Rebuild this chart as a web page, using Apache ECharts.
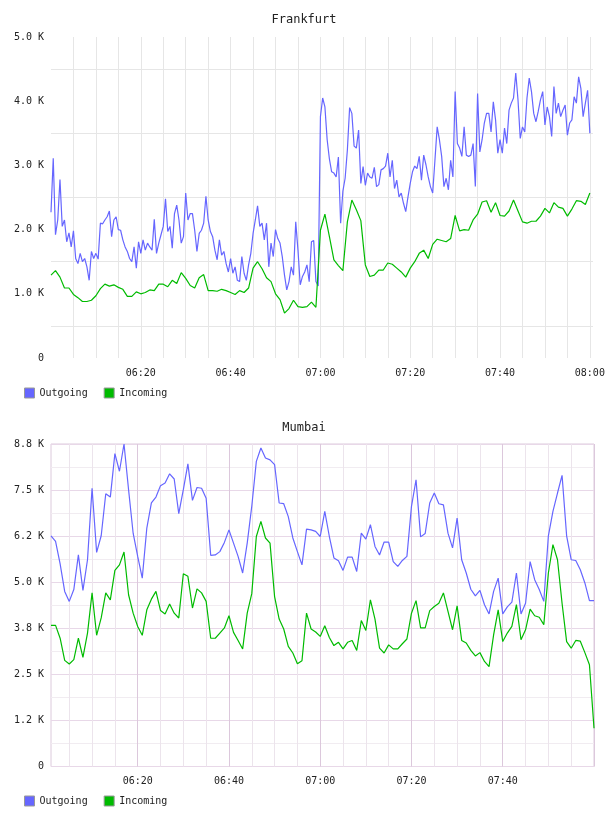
<!DOCTYPE html>
<html><head><meta charset="utf-8">
<script src="https://cdn.jsdelivr.net/npm/echarts@6/dist/echarts.min.js"></script>
<style>html,body{margin:0;padding:0;background:#fff}#c{width:608px;height:816px}</style>
</head><body><div id="c"></div>
<script>
// ---------- data (values in thousands) ----------
// Frankfurt outgoing: one sample every 30 s from 06:00
const frankfurtOutgoing = [
2.27,3.11,1.92,2.15,2.78,2.05,2.15,1.81,1.95,1.73,
1.98,1.55,1.47,1.63,1.50,1.55,1.42,1.21,1.66,1.55,
1.63,1.54,2.10,2.09,2.15,2.20,2.29,1.89,2.15,2.20,
2.00,1.99,1.84,1.73,1.66,1.55,1.50,1.73,1.40,1.81,
1.63,1.84,1.68,1.79,1.73,1.68,2.16,1.63,1.79,1.92,
2.05,2.48,1.97,2.05,1.71,2.25,2.38,2.15,1.79,1.89,
2.57,2.15,2.25,2.25,1.99,1.66,1.94,1.99,2.10,2.52,
2.15,1.97,1.89,1.68,1.53,1.84,1.60,1.66,1.47,1.34,
1.55,1.32,1.42,1.21,1.19,1.58,1.32,1.21,1.45,1.63,
1.94,2.15,2.37,2.05,2.10,1.84,2.10,1.42,1.79,1.58,
2.00,1.86,1.79,1.58,1.29,1.06,1.19,1.42,1.29,2.12,
1.68,1.14,1.27,1.34,1.45,1.19,1.81,1.83,1.19,1.12,
3.76,4.05,3.91,3.40,3.10,2.90,2.88,2.82,3.13,2.10,
2.60,2.80,3.24,3.90,3.81,3.30,3.27,3.55,2.72,2.98,
2.69,2.88,2.82,2.80,2.97,2.67,2.70,2.93,2.95,2.99,
3.19,2.82,3.08,2.64,2.77,2.51,2.57,2.41,2.28,2.51,
2.72,2.90,2.99,2.95,3.14,2.77,3.16,3.01,2.82,2.67,
2.57,3.08,3.60,3.40,3.14,2.67,2.80,2.62,3.08,2.82,
4.15,3.34,3.27,3.14,3.60,3.16,3.14,3.16,3.34,2.67,
4.12,3.21,3.40,3.66,3.81,3.81,3.52,3.99,3.71,3.19,
3.40,3.19,3.58,3.34,3.86,3.97,4.05,4.44,4.02,3.42,
3.60,3.52,4.05,4.36,4.15,3.81,3.68,3.84,4.02,4.15,
3.63,3.91,3.76,3.45,4.23,3.81,3.97,3.76,3.86,3.94,
3.47,3.66,3.71,4.07,3.97,4.38,4.20,3.76,3.97,4.17,
3.50];
// Frankfurt incoming: one sample per minute from 06:00
const frankfurtIncoming = [
1.29,1.36,1.26,1.09,1.09,0.99,0.94,0.88,0.88,0.90,
0.97,1.08,1.15,1.12,1.14,1.10,1.07,0.96,0.96,1.03,
1.00,1.02,1.06,1.05,1.15,1.15,1.11,1.21,1.16,1.33,
1.24,1.13,1.09,1.25,1.30,1.05,1.05,1.04,1.07,1.05,
1.02,0.99,1.05,1.02,1.09,1.40,1.50,1.39,1.25,1.19,
1.00,0.91,0.70,0.77,0.90,0.80,0.79,0.80,0.87,0.79,
1.99,2.24,1.89,1.53,1.44,1.36,2.12,2.46,2.31,2.14,
1.45,1.27,1.29,1.37,1.37,1.48,1.46,1.40,1.34,1.26,
1.40,1.50,1.63,1.68,1.55,1.77,1.85,1.83,1.81,1.86,
2.22,1.98,2.00,1.99,2.15,2.24,2.43,2.45,2.27,2.42,
2.22,2.21,2.29,2.46,2.29,2.12,2.10,2.13,2.13,2.21,
2.33,2.26,2.42,2.35,2.33,2.21,2.32,2.45,2.44,2.39,
2.57];
// Mumbai: one sample per minute from 06:01
const mumbaiOutgoing = [
6.26,6.11,5.50,4.75,4.48,4.80,5.74,4.78,5.61,7.55,
5.81,6.26,7.40,7.31,8.49,8.01,8.75,7.51,6.33,5.70,
5.11,6.47,7.15,7.31,7.62,7.69,7.94,7.80,6.86,7.51,
8.21,7.22,7.57,7.55,7.28,5.73,5.74,5.83,6.08,6.42,
6.06,5.70,5.25,6.06,7.06,8.28,8.64,8.37,8.32,8.19,
7.15,7.13,6.78,6.20,5.83,5.47,6.44,6.42,6.38,6.24,
6.92,6.24,5.66,5.58,5.32,5.68,5.68,5.29,6.33,6.17,
6.56,5.97,5.74,6.09,6.09,5.56,5.43,5.59,5.70,7.06,
7.78,6.23,6.32,7.15,7.42,7.13,7.10,6.33,5.93,6.74,
5.61,5.25,4.81,4.63,4.78,4.39,4.14,4.75,5.11,4.14,
4.33,4.46,5.25,4.14,4.43,5.56,5.07,4.80,4.48,6.26,
6.92,7.42,7.90,6.26,5.61,5.59,5.34,4.98,4.50,4.50];
const mumbaiIncoming = [
3.83,3.83,3.48,2.88,2.78,2.90,3.48,2.96,3.62,4.71,
3.56,4.03,4.71,4.52,5.32,5.47,5.82,4.66,4.16,3.80,
3.56,4.25,4.54,4.75,4.23,4.14,4.41,4.16,4.03,5.23,
5.16,4.30,4.82,4.71,4.48,3.48,3.48,3.62,3.76,4.09,
3.64,3.42,3.19,4.16,4.69,6.24,6.65,6.20,6.06,4.61,
4.00,3.73,3.26,3.08,2.79,2.87,4.16,3.73,3.65,3.53,
3.82,3.50,3.28,3.37,3.19,3.37,3.42,3.15,3.96,3.69,
4.52,4.00,3.21,3.08,3.30,3.19,3.19,3.33,3.46,4.16,
4.50,3.76,3.76,4.23,4.34,4.43,4.71,4.21,3.71,4.36,
3.42,3.35,3.15,3.00,3.09,2.85,2.71,3.57,4.25,3.39,
3.62,3.80,4.39,3.44,3.71,4.27,4.09,4.05,3.85,5.25,
6.02,5.61,4.43,3.39,3.21,3.42,3.40,3.09,2.76,1.04];

// sampling (minutes after 06:00)
const frankfurtOutStart = 0, frankfurtOutStep = 0.5;
const frankfurtInStart = 0, frankfurtInStep = 1;
const mumbaiStart = 1, mumbaiStep = 1;

// ticks & labels
const gridMinutes = [5,10,15,20,25,30,35,40,45,50,55,60,65,70,75,80,85,90,95,100,105,110,115,120];
const frankfurtTimeTicks = [20,40,60,80,100,120];
const frankfurtTimeLabels = ['06:20','06:40','07:00','07:20','07:40','08:00'];
const mumbaiTimeTicks = [20,40,60,80,100];
const mumbaiTimeLabels = ['06:20','06:40','07:00','07:20','07:40'];
const frankfurtYTicks = [0,1,2,3,4,5];
const frankfurtYLabels = ['0','1.0 K','2.0 K','3.0 K','4.0 K','5.0 K'];
const frankfurtYGrid = [0.5,1.5,2.5,3.5,4.5];
const mumbaiYTicks = [0,1.25,2.5,3.75,5,6.25,7.5,8.75];
const mumbaiYLabels = ['0','1.2 K','2.5 K','3.8 K','5.0 K','6.2 K','7.5 K','8.8 K'];

// ---------- styling ----------
const FONT = '"DejaVu Sans Mono", monospace';
const BLUE = '#6666ff', GREEN = '#00bb00';
const TXT = '#222';
const lookup = (vals, labels) => v => { const i = vals.indexOf(v); return i >= 0 ? labels[i] : ''; };
const labelStyle = { fontFamily: FONT, fontSize: 10, color: TXT };

const toPairs = (arr, start, step) => arr.map((v, k) => [start + k * step, v]);

const chart = echarts.init(document.getElementById('c'), null, { renderer: 'canvas' });
chart.setOption({
  animation: false,
  backgroundColor: '#fff',
  title: [
    { text: 'Frankfurt', left: 'center', top: 14, padding: 0,
      textStyle: { fontFamily: FONT, fontSize: 12, fontWeight: 'normal', color: TXT } },
    { text: 'Mumbai', left: 'center', top: 422, padding: 0,
      textStyle: { fontFamily: FONT, fontSize: 12, fontWeight: 'normal', color: TXT } }
  ],
  legend: [
    { left: 24, top: 387.5, padding: 0, icon: 'rect', itemWidth: 10, itemHeight: 10, itemGap: 16,
      data: ['Outgoing', 'Incoming'], textStyle: labelStyle,
      itemStyle: { borderColor: '#999', borderWidth: 1 } },
    { left: 24, top: 795.5, padding: 0, icon: 'rect', itemWidth: 10, itemHeight: 10, itemGap: 16,
      data: ['Outgoing', 'Incoming'], textStyle: labelStyle,
      itemStyle: { borderColor: '#999', borderWidth: 1 } }
  ],
  grid: [
    { left: 51, top: 37, width: 542, height: 321, show: false },
    { left: 51, top: 444, width: 543, height: 322.5, show: true, borderColor: '#dccadc', borderWidth: 1, backgroundColor: 'transparent' }
  ],
  xAxis: [
    { gridIndex: 0, type: 'value', min: 0, max: 120.7,
      axisLine: { show: false },
      axisTick: { show: false, customValues: gridMinutes },
      splitLine: { show: true, lineStyle: { color: '#e6e6e6', width: 1 } },
      axisLabel: Object.assign({ customValues: frankfurtTimeTicks, margin: 10,
        formatter: lookup(frankfurtTimeTicks, frankfurtTimeLabels) }, labelStyle) },
    { gridIndex: 1, type: 'value', min: 1, max: 120,
      axisLine: { show: false },
      axisTick: { show: false, customValues: gridMinutes },
      splitLine: { show: true, lineStyle: { color: ['#ece4ec', '#ece4ec', '#ece4ec', '#dcc8dc'], width: 1 } },
      axisLabel: Object.assign({ customValues: mumbaiTimeTicks, margin: 10,
        formatter: lookup(mumbaiTimeTicks, mumbaiTimeLabels) }, labelStyle) }
  ],
  yAxis: [
    { gridIndex: 0, type: 'value', min: 0, max: 5,
      axisLine: { show: false },
      axisTick: { show: false, customValues: frankfurtYGrid },
      splitLine: { show: true, lineStyle: { color: '#e6e6e6', width: 1 } },
      axisLabel: Object.assign({ customValues: frankfurtYTicks, margin: 7,
        formatter: lookup(frankfurtYTicks, frankfurtYLabels) }, labelStyle) },
    { gridIndex: 1, type: 'value', min: 0, max: 8.75, interval: 0.625,
      axisLine: { show: false },
      axisTick: { show: false },
      splitLine: { show: true, lineStyle: { color: ['#e8d8e8', '#f1ecf1'], width: 1 } },
      axisLabel: Object.assign({ customValues: mumbaiYTicks, margin: 7,
        formatter: lookup(mumbaiYTicks, mumbaiYLabels) }, labelStyle) }
  ],
  series: [
    { name: 'Outgoing', type: 'line', xAxisIndex: 0, yAxisIndex: 0, symbol: 'none',
      data: toPairs(frankfurtOutgoing, frankfurtOutStart, frankfurtOutStep),
      lineStyle: { width: 1.2, color: BLUE }, itemStyle: { color: BLUE } },
    { name: 'Incoming', type: 'line', xAxisIndex: 0, yAxisIndex: 0, symbol: 'none',
      data: toPairs(frankfurtIncoming, frankfurtInStart, frankfurtInStep),
      lineStyle: { width: 1.2, color: GREEN }, itemStyle: { color: GREEN } },
    { name: 'Outgoing', type: 'line', xAxisIndex: 1, yAxisIndex: 1, symbol: 'none',
      data: toPairs(mumbaiOutgoing, mumbaiStart, mumbaiStep),
      lineStyle: { width: 1.2, color: BLUE }, itemStyle: { color: BLUE } },
    { name: 'Incoming', type: 'line', xAxisIndex: 1, yAxisIndex: 1, symbol: 'none',
      data: toPairs(mumbaiIncoming, mumbaiStart, mumbaiStep),
      lineStyle: { width: 1.2, color: GREEN }, itemStyle: { color: GREEN } }
  ]
});
</script></body></html>
